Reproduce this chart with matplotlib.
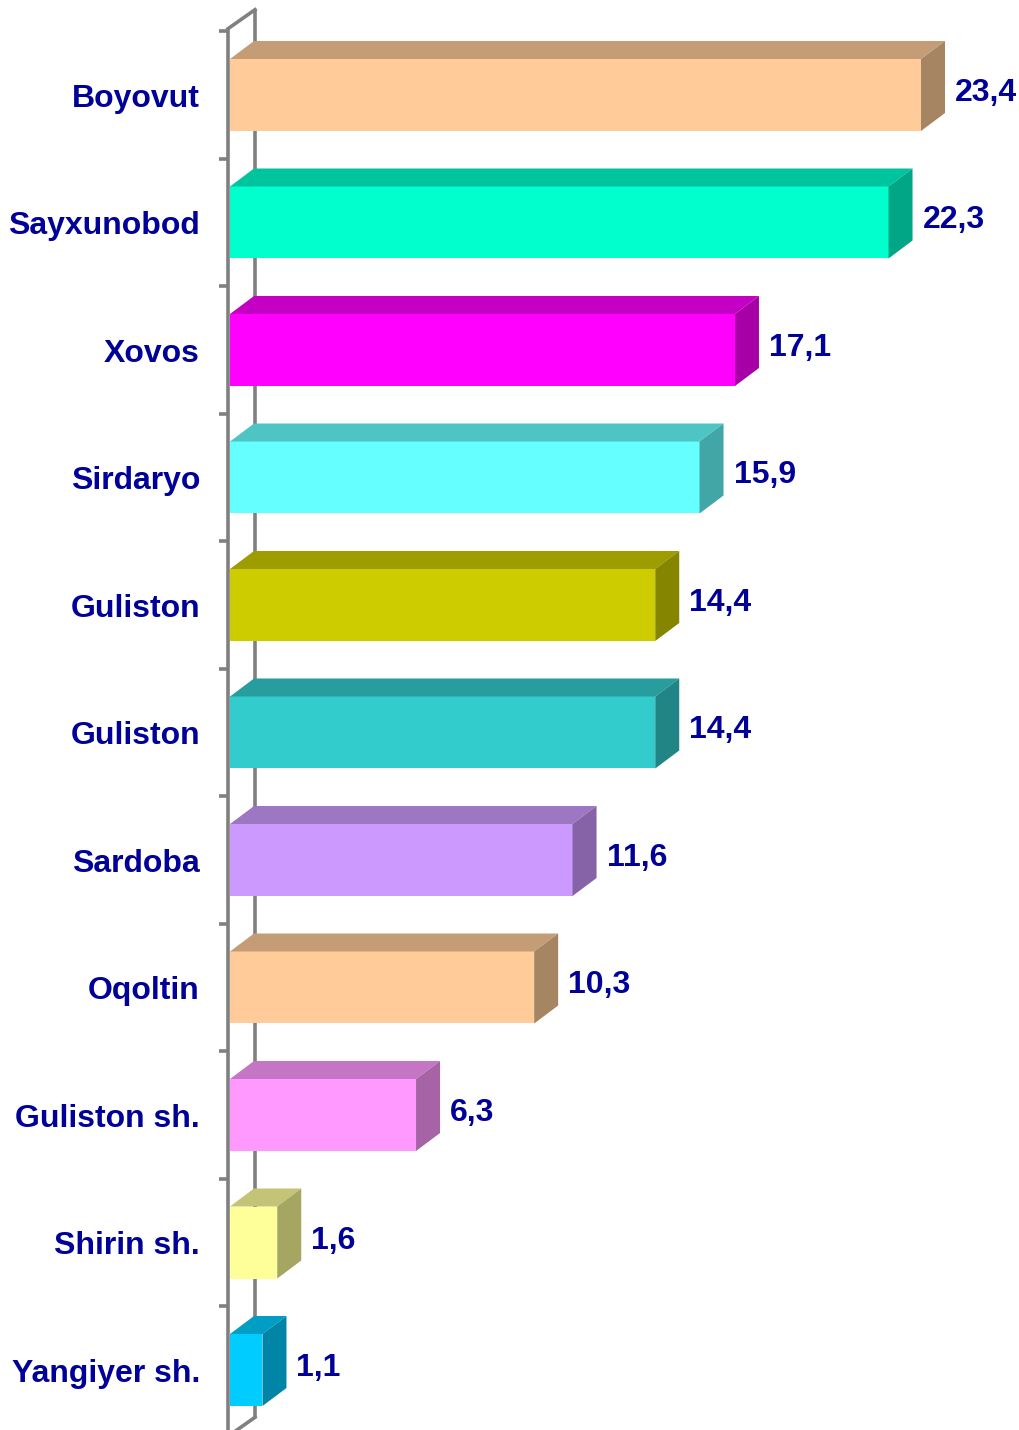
import matplotlib
matplotlib.use("Agg")
import matplotlib.pyplot as plt
from matplotlib.patches import Polygon
import matplotlib.colors as mcolors

categories = ["Boyovut", "Sayxunobod", "Xovos", "Sirdaryo", "Guliston", "Guliston",
              "Sardoba", "Oqoltin", "Guliston sh.", "Shirin sh.", "Yangiyer sh."]
values = [23.4, 22.3, 17.1, 15.9, 14.4, 14.4, 11.6, 10.3, 6.3, 1.6, 1.1]
value_labels = ["23,4", "22,3", "17,1", "15,9", "14,4", "14,4", "11,6", "10,3", "6,3", "1,6", "1,1"]
front_colors = ["#FFCC99", "#00FFCC", "#FF00FF", "#66FFFF", "#CCCC00", "#33CCCC",
                "#CC99FF", "#FFCC99", "#FF99FF", "#FFFF99", "#00CCFF"]

W, H, DPI = 1020, 1430, 100
fig = plt.figure(figsize=(W / DPI, H / DPI), dpi=DPI)
ax = fig.add_axes([0, 0, 1, 1])
ax.axis("off")

# geometry in pixels -> data units
px_per_unit = 29.53
x0_px = 230
row_px = 127.5
first_row_px = 95
ax.set_xlim(-x0_px / px_per_unit, (W - x0_px) / px_per_unit)
ax.set_ylim((H - first_row_px) / row_px, -first_row_px / row_px)

dx = 24 / px_per_unit      # depth offset to the right
dy = -18 / row_px          # depth offset upwards
wall_dx = 27 / px_per_unit
wall_dy = -19 / row_px
bar_h = 72 / row_px
text_color = "#000099"
font = dict(family=["Liberation Sans", "DejaVu Sans"], fontweight="bold",
            fontsize=23, color=text_color)

def shade(c, f):
    r, g, b = mcolors.to_rgb(c)
    return (r * f, g * f, b * f)

n = len(categories)
wall_col = "#808080"
lw = 2.6
# back wall line and connecting diagonals
top_y = -0.5 - 0.02
bot_y = n - 0.5 + 0.02
wx = -2 / px_per_unit
ax.plot([wx + wall_dx, wx + wall_dx], [top_y + wall_dy, bot_y + wall_dy], color=wall_col,
        lw=lw, zorder=1, solid_capstyle="butt")
ax.plot([wx, wx + wall_dx], [top_y, top_y + wall_dy], color=wall_col, lw=lw, zorder=1)
ax.plot([wx, wx + wall_dx], [bot_y, bot_y + wall_dy], color=wall_col, lw=lw, zorder=1)

for i, (v, c) in enumerate(zip(values, front_colors)):
    y0 = i - bar_h / 2
    y1 = i + bar_h / 2
    ax.barh(i, v, height=bar_h, left=0, color=c, edgecolor="none", zorder=2)
    top = Polygon([(0, y0), (v, y0), (v + dx, y0 + dy), (dx, y0 + dy)],
                  closed=True, facecolor=shade(c, 0.77), edgecolor="none", zorder=2)
    side = Polygon([(v, y0), (v + dx, y0 + dy), (v + dx, y1 + dy), (v, y1)],
                   closed=True, facecolor=shade(c, 0.65), edgecolor="none", zorder=2)
    ax.add_patch(top)
    ax.add_patch(side)
    ax.text(v + dx + 10 / px_per_unit, i - 2 / row_px, value_labels[i],
            ha="left", va="center", **font)
    ax.text(-30 / px_per_unit, i + 4 / row_px, categories[i], ha="right", va="center", **font)

# front wall line with tick marks
ax.plot([wx, wx], [top_y, bot_y], color=wall_col, lw=lw, zorder=3, solid_capstyle="butt")
for k in range(n + 1):
    yk = k - 0.5
    ax.plot([wx - 9 / px_per_unit, wx], [yk, yk], color=wall_col, lw=lw, zorder=3,
            solid_capstyle="butt")

fig.savefig("out.png", dpi=DPI, facecolor="white")
